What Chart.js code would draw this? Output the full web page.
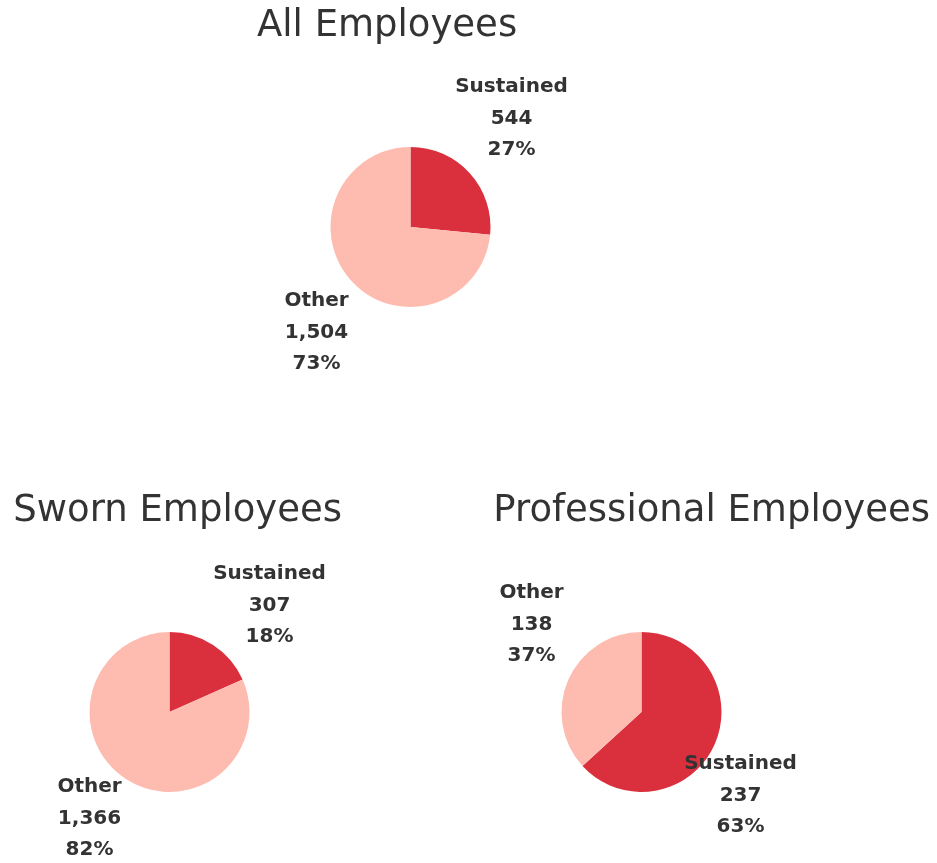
<!DOCTYPE html>
<html>
<head>
<meta charset="utf-8">
<script src="https://cdn.jsdelivr.net/npm/chart.js@4.4.0/dist/chart.umd.min.js"></script>
<style>
  body { margin: 0; background: #fff; width: 937px; height: 863px; position: relative; overflow: hidden; }
  .box { position: absolute; }
</style>
</head>
<body>
<div class="box" id="boxAll" style="left:257px; top:0px; width:330px; height:400px;"><canvas id="pieAll"></canvas></div>
<div class="box" id="boxSworn" style="left:-3px; top:485px; width:345px; height:378px;"><canvas id="pieSworn"></canvas></div>
<div class="box" id="boxProf" style="left:353px; top:485px; width:577px; height:378px;"><canvas id="pieProf"></canvas></div>

<script>
const categories = ["Sustained", "Other"];
const allCounts = [544, 1504];
const swornCounts = [307, 1366];
const professionalCounts = [237, 138];

const sliceColors = ["#da303e", "#febcb1"];
const textColor = "#333333";
const fontFamily = "'DejaVu Sans', sans-serif";

// where each slice label sits, relative to the pie centre (first line)
const labelOffsetsAll = [[101, -140], [-94, 74]];
const labelOffsetsSworn = [[100, -138], [-80, 75]];
const labelOffsetsProf = [[99, 52], [-110, -119]];

const sliceLabels = {
  id: "sliceLabels",
  afterDatasetsDraw(chart, args, opts) {
    const ctx = chart.ctx;
    const meta = chart.getDatasetMeta(0);
    const values = chart.data.datasets[0].data;
    const total = values.reduce((a, b) => a + b, 0);
    ctx.save();
    ctx.textAlign = "center";
    ctx.textBaseline = "middle";
    ctx.fillStyle = textColor;
    ctx.font = "bold 20px " + fontFamily;
    meta.data.forEach((arc, i) => {
      const off = opts.offsets[i];
      const x = arc.x + off[0];
      const y = arc.y + off[1];
      const lines = [
        chart.data.labels[i],
        values[i].toLocaleString("en-US"),
        Math.round((values[i] / total) * 100) + "%",
      ];
      lines.forEach((t, j) => {
        ctx.fillText(t, x, y + j * 31.5);
      });
    });
    ctx.restore();
  },
};

function makePie(canvasId, title, counts, offsets, titleAlign) {
  const ctx = document.getElementById(canvasId).getContext("2d");
  return new Chart(ctx, {
    type: "pie",
    data: {
      labels: categories,
      datasets: [
        {
          data: counts,
          backgroundColor: sliceColors,
          borderWidth: 0,
          hoverOffset: 0,
        },
      ],
    },
    options: {
      responsive: true,
      maintainAspectRatio: false,
      animation: false,
      radius: 80,
      layout: { padding: { left: 0, right: 0, top: 0, bottom: 0 } },
      plugins: {
        legend: { display: false },
        tooltip: { enabled: false },
        title: {
          display: true,
          text: title,
          align: titleAlign,
          color: textColor,
          font: { family: fontFamily, size: 37, weight: "normal", lineHeight: 1.2 },
          padding: { top: 4, bottom: 98.6 },
        },
        sliceLabels: { offsets: offsets },
      },
    },
    plugins: [sliceLabels],
  });
}

// chart area bottom = top + 147 + 160, so pad the rest
function fixBottom(chart, boxHeight) {
  chart.options.layout.padding.bottom = boxHeight - 307;
  chart.update();
}

const chartAll = makePie("pieAll", "All Employees", allCounts, labelOffsetsAll, "start");
chartAll.options.layout.padding.right = 23;
fixBottom(chartAll, 400);

const chartSworn = makePie("pieSworn", "Sworn Employees", swornCounts, labelOffsetsSworn, "end");
fixBottom(chartSworn, 378);

const chartProf = makePie("pieProf", "Professional Employees", professionalCounts, labelOffsetsProf, "end");
fixBottom(chartProf, 378);
</script>
</body>
</html>
